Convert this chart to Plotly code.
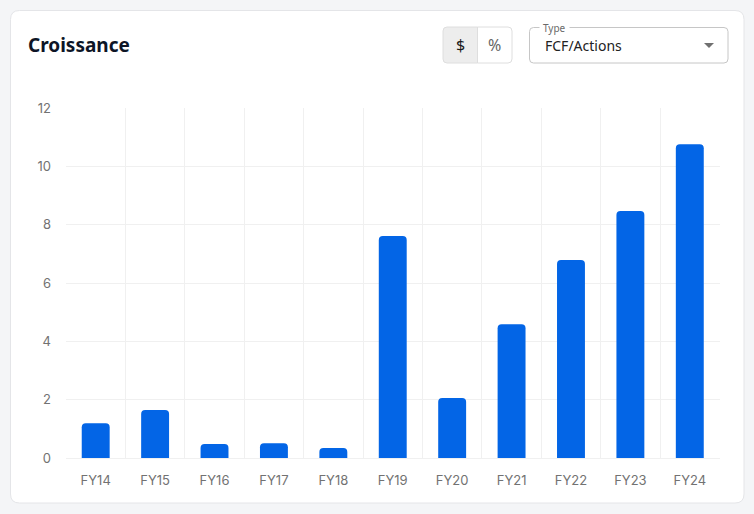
import plotly.graph_objects as go

categories = ["FY14", "FY15", "FY16", "FY17", "FY18", "FY19", "FY20", "FY21", "FY22", "FY23", "FY24"]
values = [1.19, 1.65, 0.48, 0.51, 0.34, 7.61, 2.06, 4.59, 6.79, 8.47, 10.76]
y_ticks = [0, 2, 4, 6, 8, 10, 12]

W, H = 754, 514
BAR = "#0365e6"
GRID = "#f0f0f0"
TICK = "#727272"


def px(x):
    return x / W


def py(y):
    return 1 - y / H


def rrect(x0, y0, x1, y1, r):
    pts = [
        f"M {px(x0 + r)} {py(y0)}",
        f"L {px(x1 - r)} {py(y0)}",
        f"Q {px(x1)} {py(y0)} {px(x1)} {py(y0 + r)}",
        f"L {px(x1)} {py(y1 - r)}",
        f"Q {px(x1)} {py(y1)} {px(x1 - r)} {py(y1)}",
        f"L {px(x0 + r)} {py(y1)}",
        f"Q {px(x0)} {py(y1)} {px(x0)} {py(y1 - r)}",
        f"L {px(x0)} {py(y0 + r)}",
        f"Q {px(x0)} {py(y0)} {px(x0 + r)} {py(y0)}",
        "Z",
    ]
    return " ".join(pts)


def lpath(x0, y0, x1, y1, r, round_left=True):
    if round_left:
        pts = [
            f"M {px(x0 + r)} {py(y0)}", f"L {px(x1)} {py(y0)}", f"L {px(x1)} {py(y1)}",
            f"L {px(x0 + r)} {py(y1)}", f"Q {px(x0)} {py(y1)} {px(x0)} {py(y1 - r)}",
            f"L {px(x0)} {py(y0 + r)}", f"Q {px(x0)} {py(y0)} {px(x0 + r)} {py(y0)}", "Z",
        ]
    else:
        pts = [
            f"M {px(x0)} {py(y0)}", f"L {px(x1 - r)} {py(y0)}",
            f"Q {px(x1)} {py(y0)} {px(x1)} {py(y0 + r)}", f"L {px(x1)} {py(y1 - r)}",
            f"Q {px(x1)} {py(y1)} {px(x1 - r)} {py(y1)}", f"L {px(x0)} {py(y1)}", "Z",
        ]
    return " ".join(pts)


fig = go.Figure()
fig.add_trace(go.Bar(
    x=categories, y=values,
    marker=dict(color=BAR, cornerradius=4, line=dict(width=0)),
    width=0.47,
    hoverinfo="x+y",
))

shapes = [
    dict(type="path", xref="paper", yref="paper", path=rrect(10.5, 10.5, 744, 503, 9),
         fillcolor="white", line=dict(color="#e4e5e8", width=1), layer="below"),
    dict(type="path", xref="paper", yref="paper", path=lpath(443, 27, 477.5, 63, 4, True),
         fillcolor="#ededed", line=dict(color="#dedede", width=1), layer="above"),
    dict(type="path", xref="paper", yref="paper", path=lpath(477.5, 27, 512, 63, 4, False),
         fillcolor="white", line=dict(color="#dedede", width=1), layer="above"),
    dict(type="path", xref="paper", yref="paper", path=rrect(529.5, 27.5, 728, 63, 4),
         fillcolor="white", line=dict(color="#c6c6c6", width=1), layer="above"),
    dict(type="path", xref="paper", yref="paper",
         path=f"M {px(704)} {py(43)} L {px(714)} {py(43)} L {px(709)} {py(48)} Z",
         fillcolor="#707070", line=dict(width=0), layer="above"),
]

annotations = [
    dict(text="<b>Croissance</b>", xref="paper", yref="paper", x=px(26), y=py(45),
         xanchor="left", yanchor="middle", showarrow=False,
         font=dict(family="Noto Sans", size=19, color="#0d1526")),
    dict(text="$", xref="paper", yref="paper", x=px(460), y=py(45),
         xanchor="center", yanchor="middle", showarrow=False,
         font=dict(family="Noto Sans", size=16, color="#1a1a1a")),
    dict(text="%", xref="paper", yref="paper", x=px(494.5), y=py(45),
         xanchor="center", yanchor="middle", showarrow=False,
         font=dict(family="Noto Sans", size=16, color="#666666")),
    dict(text="FCF/Actions", xref="paper", yref="paper", x=px(543), y=py(45),
         xanchor="left", yanchor="middle", showarrow=False,
         font=dict(family="Noto Sans", size=14, color="#222222")),
    dict(text="Type", xref="paper", yref="paper", x=px(554.5), y=py(27.5),
         xanchor="center", yanchor="middle", showarrow=False, bgcolor="white",
         borderpad=3, font=dict(family="Noto Sans", size=10, color="#6a6a6a")),
]

fig.update_layout(
    width=W, height=H,
    margin=dict(l=0, r=0, t=0, b=0),
    paper_bgcolor="#f4f5f7",
    plot_bgcolor="rgba(0,0,0,0)",
    showlegend=False,
    shapes=shapes,
    annotations=annotations,
    xaxis=dict(
        domain=[px(66), px(719.5)],
        type="category",
        tickson="boundaries",
        showgrid=True, gridcolor=GRID, gridwidth=1,
        ticks="", showline=False, zeroline=False,
        tickfont=dict(family="Inter", size=13, color=TICK),
        ticklabelstandoff=13,
        automargin=False,
        fixedrange=True,
    ),
    yaxis=dict(
        domain=[py(458), py(108)],
        range=[0, 12],
        tickvals=y_ticks,
        showgrid=True, gridcolor=GRID, gridwidth=1,
        zeroline=True, zerolinecolor=GRID, zerolinewidth=1,
        ticks="", showline=False,
        tickfont=dict(family="Inter", size=13, color=TICK),
        ticklabelstandoff=14,
        automargin=False,
        fixedrange=True,
    ),
)

fig.write_html("out.html", config={"displayModeBar": False})
